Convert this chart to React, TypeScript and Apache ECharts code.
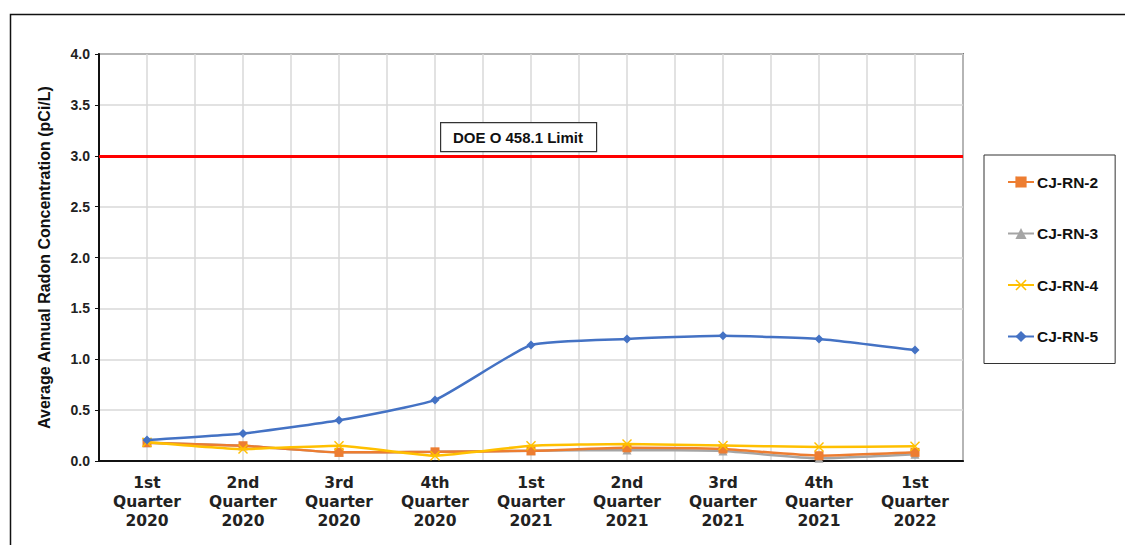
import React, { useEffect, useRef } from "react";
import * as echarts from "echarts";

const CATEGORIES = [
  "1st\nQuarter\n2020",
  "2nd\nQuarter\n2020",
  "3rd\nQuarter\n2020",
  "4th\nQuarter\n2020",
  "1st\nQuarter\n2021",
  "2nd\nQuarter\n2021",
  "3rd\nQuarter\n2021",
  "4th\nQuarter\n2021",
  "1st\nQuarter\n2022",
];
const RN2 = [0.18, 0.15, 0.085, 0.09, 0.1, 0.13, 0.118, 0.052, 0.085];
const RN3 = [0.18, 0.15, 0.085, 0.09, 0.1, 0.108, 0.098, 0.026, 0.066];
const RN4 = [0.185, 0.118, 0.15, 0.052, 0.15, 0.167, 0.152, 0.138, 0.144];
const RN5 = [0.206, 0.27, 0.4, 0.6, 1.14, 1.2, 1.23, 1.2, 1.09];
const SERIES_NAMES = ["CJ-RN-2", "CJ-RN-3", "CJ-RN-4", "CJ-RN-5"];
const LIMIT = 3.0;
const LIMIT_LABEL = "DOE O 458.1 Limit";
const Y_MIN = 0;
const Y_MAX = 4;
const Y_INTERVAL = 0.5;
const Y_TITLE = "Average Annual Radon Concentration (pCi/L)";

const ARIAL = "'Liberation Sans', Arial, sans-serif";
const X_PATH = "path://M0,1L1,0L5,4L9,0L10,1L6,5L10,9L9,10L5,6L1,10L0,9L4,5Z";

export default function App() {
  const ref = useRef<HTMLDivElement>(null);
  useEffect(() => {
    if (!ref.current) return;
    const chart = echarts.init(ref.current, null, { renderer: "svg" });
    const mk = (
      name: string,
      data: number[],
      color: string,
      symbol: string,
      symbolSize: number,
      z: number
    ) => ({
      name,
      type: "line",
      data,
      z,
      smooth: 0.15,
      symbol,
      symbolSize,
      showSymbol: true,
      lineStyle: { color, width: 2.5 },
      itemStyle: { color, borderWidth: 0 },
    });
    const s5: any = mk(SERIES_NAMES[3], RN5, "#4472C4", "diamond", 9, 5);
    s5.markLine = {
      silent: true,
      symbol: "none",
      label: { show: false },
      lineStyle: { color: "#FF0000", width: 3, type: "solid" },
      data: [{ yAxis: LIMIT }],
    };
    chart.setOption({
      animation: false,
      backgroundColor: "#ffffff",
      grid: {
        left: 99,
        top: 54,
        right: 162,
        bottom: 84,
        show: true,
        borderColor: "#111",
        borderWidth: 1.5,
        containLabel: false,
      },
      legend: {
        orient: "vertical",
        left: 984,
        top: 155,
        padding: [19, 17, 19, 23],
        itemGap: 35.5,
        itemWidth: 26,
        itemHeight: 14,
        borderColor: "#333",
        borderWidth: 1,
        data: SERIES_NAMES,
        textStyle: {
          fontFamily: ARIAL,
          fontWeight: "bold",
          fontSize: 15.5,
          color: "#111",
          padding: [0, 0, 0, -2],
        },
      },
      xAxis: [
        {
          type: "category",
          data: CATEGORIES,
          boundaryGap: true,
          axisLine: { lineStyle: { color: "#111", width: 2 } },
          axisTick: { show: false },
          splitLine: { show: false },
          axisLabel: {
            interval: 0,
            margin: 12,
            fontFamily: "'DejaVu Sans', sans-serif",
            fontWeight: "bold",
            fontSize: 15.5,
            lineHeight: 19,
            color: "#222",
          },
        },
        {
          type: "value",
          min: 0,
          max: 18,
          interval: 1,
          show: true,
          position: "bottom",
          axisLine: { show: false },
          axisTick: { show: false },
          axisLabel: { show: false },
          splitLine: { show: true, lineStyle: { color: "#d9d9d9", width: 1.5 } },
        },
      ],
      yAxis: {
        type: "value",
        min: Y_MIN,
        max: Y_MAX,
        interval: Y_INTERVAL,
        name: Y_TITLE,
        nameLocation: "middle",
        nameRotate: 90,
        nameGap: 47,
        nameTextStyle: {
          fontFamily: ARIAL,
          fontWeight: "bold",
          fontSize: 16,
          color: "#111",
        },
        axisLine: { show: true, lineStyle: { color: "#111", width: 2 } },
        axisTick: { show: true, length: 4, lineStyle: { color: "#111" } },
        axisLabel: {
          margin: 9,
          fontFamily: ARIAL,
          fontWeight: "bold",
          fontSize: 14,
          color: "#222",
          formatter: (v: number) => v.toFixed(1),
        },
        splitLine: { show: true, lineStyle: { color: "#d9d9d9", width: 1.5 } },
      },
      graphic: [
        {
          type: "rect",
          left: 8,
          top: 12,
          shape: { x: 0, y: 0, width: 1140, height: 560 },
          style: { fill: "none", stroke: "#111", lineWidth: 1.5 },
          silent: true,
          z: -10,
        },
        {
          type: "rect",
          left: 440,
          top: 122,
          z: 100,
          shape: { x: 0, y: 0, width: 156, height: 29 },
          style: { fill: "#fff", stroke: "#333", lineWidth: 1.2 },
        },
        {
          type: "text",
          x: 518,
          y: 137,
          z: 101,
          style: {
            text: LIMIT_LABEL,
            fontFamily: ARIAL,
            fontWeight: "bold",
            fontSize: 15,
            fill: "#111",
            align: "center",
            verticalAlign: "middle",
          },
        },
      ],
      series: [
        mk(SERIES_NAMES[0], RN2, "#ED7D31", "rect", 9, 3),
        mk(SERIES_NAMES[1], RN3, "#A5A5A5", "triangle", 9, 2),
        mk(SERIES_NAMES[2], RN4, "#FFC000", X_PATH, 10, 4),
        s5,
      ],
    });
    return () => chart.dispose();
  }, []);
  return (
    <div
      ref={ref}
      style={{ position: "fixed", left: 0, top: 0, width: 1125, height: 545 }}
    />
  );
}
